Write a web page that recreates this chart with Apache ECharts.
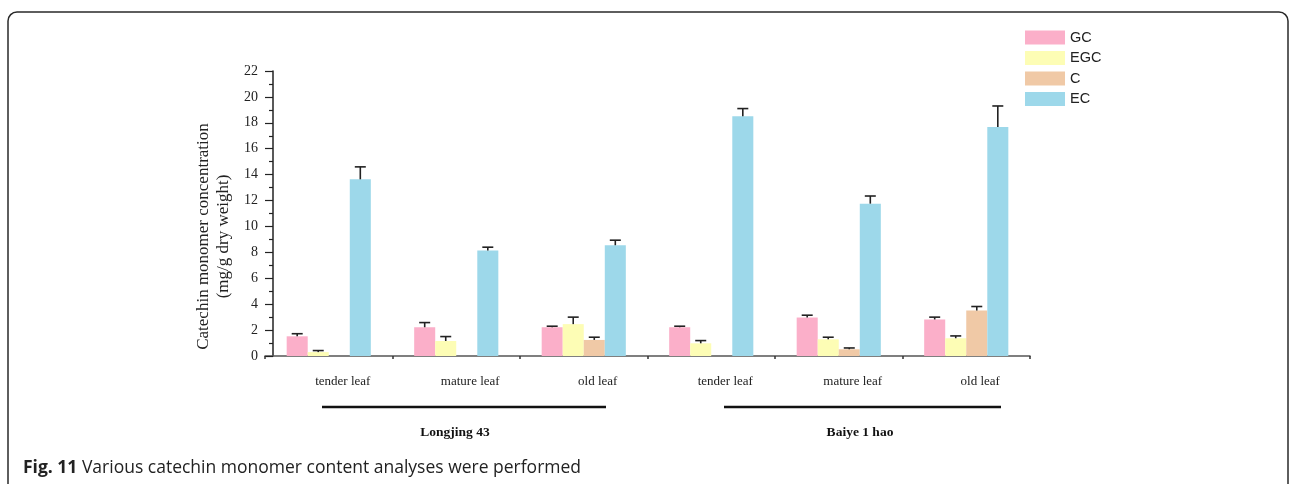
<!DOCTYPE html>
<html>
<head>
<meta charset="utf-8">
<script src="https://cdn.jsdelivr.net/npm/echarts@6/dist/echarts.min.js"></script>
<style>
html,body{margin:0;padding:0;background:#fff;}
#chart{width:1295px;height:484px;}
</style>
</head>
<body>
<div id="chart"></div>
<script>
// ---- data ----
const categories = ['tender leaf', 'mature leaf', 'old leaf', 'tender leaf', 'mature leaf', 'old leaf'];
const seriesNames = ['GC', 'EGC', 'C', 'EC'];
const gcValues  = [1.52, 2.22, 2.22, 2.22, 2.97, 2.82];
const egcValues = [0.30, 1.16, 2.46, 0.98, 1.29, 1.37];
const cValues   = [null, null, 1.24, null, 0.52, 3.51];
const ecValues  = [13.64, 8.14, 8.55, 18.50, 11.76, 17.67];
const gcErr  = [0.20, 0.36, 0.08, 0.08, 0.18, 0.18];
const egcErr = [0.12, 0.34, 0.54, 0.21, 0.16, 0.18];
const cErr   = [null, null, 0.21, null, 0.10, 0.31];
const ecErr  = [0.96, 0.26, 0.39, 0.60, 0.59, 1.63];
const groupNames = ['Longjing 43', 'Baiye 1 hao'];
const yTicks = { min: 0, max: 22, interval: 2 };
const colors = ['#FBAFC9', '#FDFDB5', '#F0C9A6', '#9DD8EA'];

const values = [gcValues, egcValues, cValues, ecValues];
const errs = [gcErr, egcErr, cErr, ecErr];
const catGap = 0.34;

const errData = [];
values.forEach((vals, s) => {
  vals.forEach((v, i) => {
    if (v != null && errs[s][i] != null) errData.push([i, s, v, v + errs[s][i]]);
  });
});

const chart = echarts.init(document.getElementById('chart'), null, {renderer: 'canvas'});
const serif = 'Liberation Serif, Times New Roman, serif';

const barSeries = seriesNames.map((n, s) => ({
  name: n,
  type: 'bar',
  data: values[s],
  barGap: '0%',
  barCategoryGap: (catGap * 100) + '%',
  itemStyle: { color: colors[s] },
  z: 2
}));

const errSeries = {
  type: 'custom',
  z: 5,
  silent: true,
  data: errData,
  encode: { x: 0, y: 3 },
  renderItem: function (params, api) {
    const cat = api.value(0), s = api.value(1), top = api.value(3), v = api.value(2);
    const band = api.size([1, 0])[0];
    const bw = band * (1 - catGap) / 4;
    const cx = api.coord([cat, 0])[0] + (s - 1.5) * bw;
    const pTop = api.coord([cat, top])[1];
    const pV = api.coord([cat, v])[1];
    const cap = 5.5;
    const st = { stroke: '#222', lineWidth: 1.6 };
    return {
      type: 'group',
      children: [
        { type: 'line', shape: { x1: cx, y1: pV, x2: cx, y2: pTop }, style: st },
        { type: 'line', shape: { x1: cx - cap, y1: pTop, x2: cx + cap, y2: pTop }, style: st }
      ]
    };
  }
};

const option = {
  backgroundColor: '#fff',
  animation: false,
  title: {
    text: '{b|Fig. 11} Various catechin monomer content analyses were performed',
    left: 18,
    top: 454,
    textStyle: {
      fontFamily: 'Open Sans, Noto Sans, sans-serif',
      fontSize: 17.5,
      fontWeight: 'normal',
      color: '#222',
      rich: { b: { fontFamily: 'Open Sans, Noto Sans, sans-serif', fontSize: 17.5, fontWeight: 'bold', color: '#222' } }
    }
  },
  legend: {
    orient: 'vertical',
    left: 1020,
    top: 25,
    itemWidth: 40,
    itemHeight: 14,
    itemGap: 5.5,
    icon: 'rect',
    data: seriesNames,
    textStyle: { fontFamily: 'Liberation Sans, Arial, sans-serif', fontSize: 14.5, color: '#222' }
  },
  grid: { left: 265, right: 265, top: 71, bottom: 128, containLabel: false },
  xAxis: {
    type: 'category',
    data: categories,
    axisLine: { lineStyle: { color: '#555', width: 1.5 } },
    axisTick: { show: true, length: 3, lineStyle: { color: '#333', width: 1.5 } },
    axisLabel: {
      fontFamily: serif, fontSize: 13, color: '#222', margin: 19,
      padding: [0, 0, 0, 28]
    }
  },
  yAxis: {
    type: 'value',
    min: yTicks.min, max: yTicks.max, interval: yTicks.interval,
    offset: -8,
    name: 'Catechin monomer concentration\n(mg/g dry weight)',
    nameLocation: 'middle',
    nameGap: 38,
    nameTextStyle: { fontFamily: serif, fontSize: 17, color: '#222', lineHeight: 20, padding: [0, 46, 0, 0] },
    axisLine: { show: true, lineStyle: { color: '#222', width: 1.5 } },
    axisTick: { show: true, length: 8, lineStyle: { color: '#222', width: 1.2 } },
    minorTick: { show: true, splitNumber: 2, length: 4, lineStyle: { color: '#222', width: 1.2 } },
    splitLine: { show: false },
    axisLabel: { fontFamily: serif, fontSize: 14, color: '#222', margin: 15 }
  },
  graphic: [
    { type: 'rect', shape: { x: 8, y: 12, width: 1280, height: 500, r: 9 },
      style: { fill: 'none', stroke: '#2a2a2a', lineWidth: 1.5 }, silent: true },
    { type: 'line', shape: { x1: 322, y1: 407, x2: 606, y2: 407 }, style: { stroke: '#111', lineWidth: 2.5 } },
    { type: 'line', shape: { x1: 724, y1: 407, x2: 1001, y2: 407 }, style: { stroke: '#111', lineWidth: 2.5 } },
    { type: 'text', x: 455, y: 433, style: { text: groupNames[0], fontFamily: serif, fontSize: 13.5, fontWeight: 'bold', fill: '#111', textAlign: 'center', textVerticalAlign: 'middle' } },
    { type: 'text', x: 860, y: 433, style: { text: groupNames[1], fontFamily: serif, fontSize: 13.5, fontWeight: 'bold', fill: '#111', textAlign: 'center', textVerticalAlign: 'middle' } }
  ],
  series: barSeries.concat([errSeries])
};
chart.setOption(option);
</script>
</body>
</html>
